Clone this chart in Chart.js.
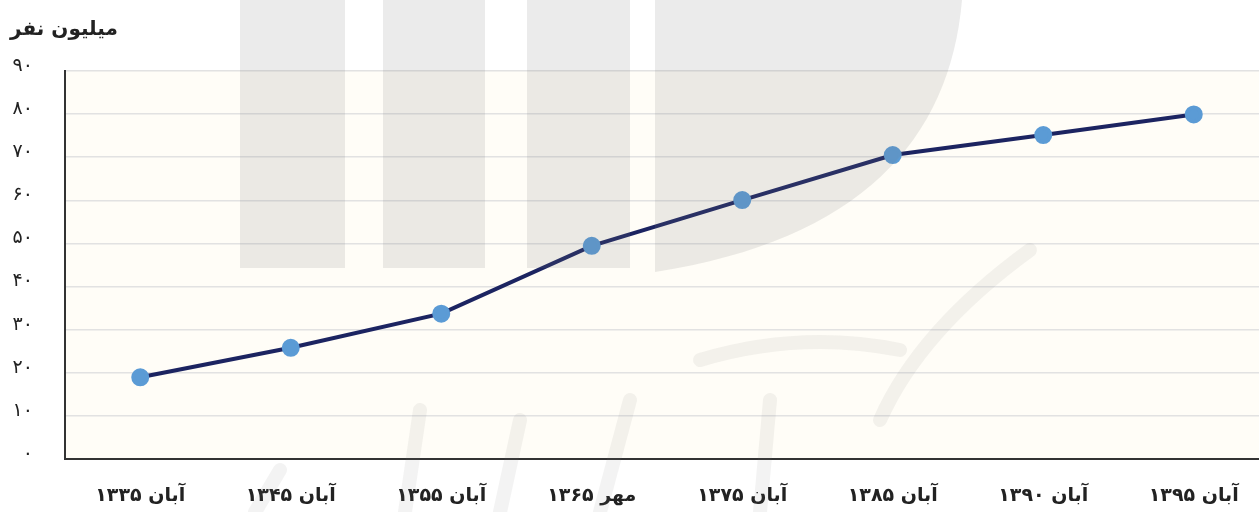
<!DOCTYPE html>
<html lang="fa">
<head>
<meta charset="utf-8">
<script src="https://cdn.jsdelivr.net/npm/chart.js@4"></script>
<style>
  html, body { margin: 0; padding: 0; background: #fff; }
  #wrap { width: 1259px; height: 512px; overflow: hidden; position: relative; }
  canvas { display: block; }
</style>
</head>
<body>
<div id="wrap"><canvas id="chart" width="1269" height="512"></canvas></div>
<script>
// سرشماری‌ها - جمعیت کل کشور (میلیون نفر)
const censusLabels = ['آبان ۱۳۳۵', 'آبان ۱۳۴۵', 'آبان ۱۳۵۵', 'مهر ۱۳۶۵', 'آبان ۱۳۷۵', 'آبان ۱۳۸۵', 'آبان ۱۳۹۰', 'آبان ۱۳۹۵'];
const populationValues = [18.95, 25.79, 33.71, 49.45, 60.06, 70.50, 75.15, 79.93];
const yTicks = [0, 10, 20, 30, 40, 50, 60, 70, 80, 90];

const faDigits = (n) => String(n).replace(/\d/g, d => '۰۱۲۳۴۵۶۷۸۹'[d]);

// پس‌زمینه ناحیه نمودار
const plotBackground = {
    id: 'plotBackground',
    beforeDraw(chart) {
        const { ctx, chartArea: a } = chart;
        ctx.save();
        ctx.fillStyle = '#fffdf7';
        ctx.fillRect(a.left, a.top, a.right - a.left, a.bottom - a.top);
        ctx.restore();
    }
};

// واترمارک کم‌رنگ روی نمودار
const watermark = {
    id: 'watermark',
    afterDatasetsDraw(chart) {
        const { ctx } = chart;
        ctx.save();
        ctx.fillStyle = 'rgba(120,120,120,0.15)';
        ctx.fillRect(240, 0, 105, 268);
        ctx.fillRect(383, 0, 102, 268);
        ctx.fillRect(527, 0, 103, 268);
        ctx.beginPath();
        ctx.moveTo(655, 0);
        ctx.lineTo(962, 0);
        ctx.bezierCurveTo(950, 140, 860, 240, 655, 272);
        ctx.closePath();
        ctx.fill();
        ctx.strokeStyle = 'rgba(120,120,120,0.09)';
        ctx.lineCap = 'round';
        ctx.lineWidth = 14;
        ctx.beginPath();
        ctx.moveTo(1030, 250); ctx.quadraticCurveTo(920, 330, 880, 420); ctx.stroke();
        ctx.beginPath();
        ctx.moveTo(700, 360); ctx.quadraticCurveTo(800, 330, 900, 350); ctx.stroke();
        ctx.beginPath();
        ctx.moveTo(770, 400); ctx.lineTo(760, 512); ctx.stroke();
        ctx.beginPath();
        ctx.moveTo(630, 400); ctx.lineTo(600, 512); ctx.stroke();
        ctx.beginPath();
        ctx.moveTo(520, 420); ctx.lineTo(500, 512); ctx.stroke();
        ctx.beginPath();
        ctx.moveTo(420, 410); ctx.lineTo(405, 512); ctx.stroke();
        ctx.beginPath();
        ctx.moveTo(280, 470); ctx.lineTo(255, 512); ctx.stroke();
        ctx.restore();
    }
};

new Chart(document.getElementById('chart'), {
    type: 'line',
    data: {
        labels: censusLabels,
        datasets: [{
            data: populationValues,
            borderColor: '#1c2461',
            borderWidth: 4,
            pointBackgroundColor: '#5b9bd5',
            pointBorderColor: '#5b9bd5',
            pointRadius: 7,
            tension: 0
        }]
    },
    options: {
        responsive: false,
        animation: false,
        layout: { autoPadding: false, padding: { top: 0, right: 0, left: 10, bottom: 6 } },
        plugins: {
            legend: { display: false },
            tooltip: { enabled: false },
            title: {
                display: true,
                text: 'میلیون نفر',
                align: 'start',
                color: '#222',
                font: { family: 'DejaVu Sans', size: 20, weight: 'bold' },
                padding: { top: 18, bottom: 29 }
            }
        },
        scales: {
            x: {
                offset: true,
                grid: { display: false, drawTicks: false },
                border: { color: '#333', width: 2 },
                afterFit: (axis) => { axis.height = 47; },
                ticks: {
                    color: '#222',
                    padding: 26,
                    maxRotation: 0,
                    font: { family: 'DejaVu Sans', size: 19, weight: 'bold' }
                }
            },
            y: {
                min: 0,
                max: 90,
                afterBuildTicks: (axis) => { axis.ticks = yTicks.map(v => ({ value: v })); },
                afterFit: (axis) => { axis.width = 55; },
                grid: { color: '#e2e2e2', lineWidth: 1.5, drawTicks: false },
                border: { color: '#333', width: 2 },
                ticks: {
                    color: '#222',
                    padding: 32,
                    labelOffset: -5,
                    font: { family: 'DejaVu Sans', size: 19 },
                    callback: (v) => faDigits(v)
                }
            }
        }
    },
    plugins: [plotBackground, watermark]
});
</script>
</body>
</html>
